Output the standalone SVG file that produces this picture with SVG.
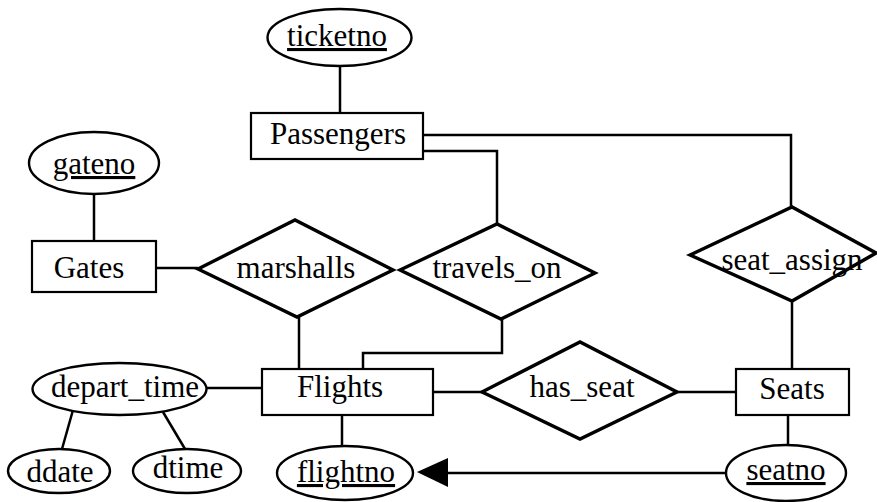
<svg xmlns="http://www.w3.org/2000/svg" width="877" height="502" viewBox="0 0 877 502">
  <style>
    .ent { fill: #fff; stroke: #000; stroke-width: 2.2; }
    .rel { fill: #fff; stroke: #000; stroke-width: 3.4; stroke-linejoin: miter; }
    .att { fill: #fff; stroke: #000; stroke-width: 2.4; }
    .lbl { font-family: "Liberation Serif", "Times New Roman", serif; font-size: 31px; fill: #000; text-anchor: middle; }
    .key { text-decoration: underline; }
    .edge { fill: none; stroke: #000; stroke-width: 2.5; }
  </style>
  <rect width="877" height="502" fill="#fff"/>

  <!-- connectors -->
  <g id="connectors">
    <line class="edge" x1="340" y1="66" x2="340" y2="113"/>
    <line class="edge" x1="94" y1="194" x2="94" y2="241"/>
    <line class="edge" x1="156" y1="268" x2="198" y2="268"/>
    <line class="edge" x1="299" y1="317" x2="299" y2="369"/>
    <polyline class="edge" points="423,151 497,151 497,224"/>
    <polyline class="edge" points="423,135 791,135 791,207"/>
    <polyline class="edge" points="502,319 502,353 363,353 363,369"/>
    <line class="edge" x1="792" y1="301" x2="792" y2="369"/>
    <line class="edge" x1="433" y1="392" x2="482" y2="392"/>
    <line class="edge" x1="677" y1="392" x2="736" y2="392"/>
    <line class="edge" x1="207" y1="388" x2="262" y2="388"/>
    <line class="edge" x1="73" y1="410" x2="62" y2="449"/>
    <line class="edge" x1="163" y1="412" x2="185" y2="449"/>
    <line class="edge" x1="342" y1="415" x2="342" y2="446"/>
    <line class="edge" x1="788" y1="415" x2="788" y2="445"/>
    <line class="edge" x1="448" y1="473" x2="726" y2="473"/>
    <polygon points="417,472 448,458 448,487" fill="#000"/>
  </g>

  <!-- entities -->
  <g id="passengers">
    <rect class="ent" x="251" y="113" width="172" height="46"/>
    <text class="lbl" x="338" y="144">Passengers</text>
  </g>
  <g id="gates">
    <rect class="ent" x="32" y="241" width="124" height="51"/>
    <text class="lbl" x="89" y="278">Gates</text>
  </g>
  <g id="flights">
    <rect class="ent" x="262" y="369" width="171" height="46"/>
    <text class="lbl" x="340" y="397">Flights</text>
  </g>
  <g id="seats">
    <rect class="ent" x="736" y="369" width="113" height="46"/>
    <text class="lbl" x="792" y="399">Seats</text>
  </g>

  <!-- relationships -->
  <g id="marshalls">
    <polygon class="rel" points="198,269 295,220 393,270 297,317"/>
    <text class="lbl" x="296" y="278">marshalls</text>
  </g>
  <g id="travels_on">
    <polygon class="rel" points="400,270 497,224 595,273 501,319"/>
    <text class="lbl" x="497" y="278">travels_on</text>
  </g>
  <g id="seat_assign">
    <polygon class="rel" points="690,255 792,207 876,253 792,301"/>
    <text class="lbl" x="792" y="270">seat_assign</text>
  </g>
  <g id="has_seat">
    <polygon class="rel" points="482,392 580,342 677,392 580,439"/>
    <text class="lbl" x="582" y="397">has_seat</text>
  </g>

  <!-- attributes -->
  <g id="ticketno">
    <ellipse class="att" cx="339.5" cy="37.5" rx="72" ry="28.5"/>
    <text class="lbl key" x="337" y="46">ticketno</text>
  </g>
  <g id="gateno">
    <ellipse class="att" cx="94" cy="163" rx="65" ry="31"/>
    <text class="lbl key" x="94" y="174">gateno</text>
  </g>
  <g id="depart_time">
    <ellipse class="att" cx="119.5" cy="389" rx="87" ry="26"/>
    <text class="lbl" x="125" y="397">depart_time</text>
  </g>
  <g id="ddate">
    <ellipse class="att" cx="59" cy="471" rx="51" ry="22"/>
    <text class="lbl" x="60" y="482">ddate</text>
  </g>
  <g id="dtime">
    <ellipse class="att" cx="187" cy="471" rx="54" ry="22"/>
    <text class="lbl" x="188" y="478">dtime</text>
  </g>
  <g id="flightno">
    <ellipse class="att" cx="345" cy="473" rx="68" ry="27"/>
    <text class="lbl key" x="346" y="482">flightno</text>
  </g>
  <g id="seatno">
    <ellipse class="att" cx="786" cy="473" rx="60" ry="28"/>
    <text class="lbl key" x="786" y="480">seatno</text>
  </g>
</svg>
